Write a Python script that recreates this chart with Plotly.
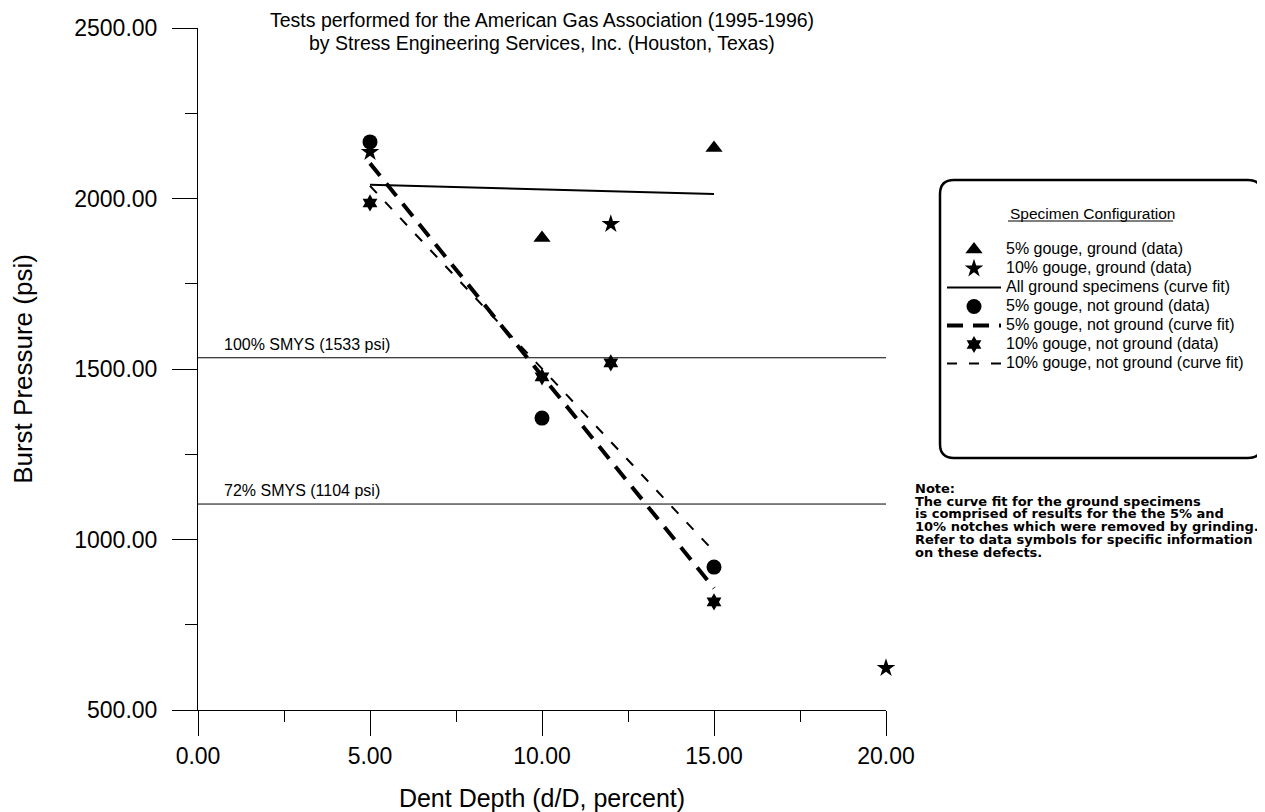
import plotly.graph_objects as go

# ---------------- data ----------------
g5_x = [10, 15]
g5_y = [1884, 2148]

g10_x = [5, 12, 20]
g10_y = [2136, 1925, 623]

gfit_x = [5, 15]
gfit_y = [2040, 2013]

ng5_x = [5, 10, 15]
ng5_y = [2166, 1356, 919]

ng5fit_x = [5, 15]
ng5fit_y = [2103, 857]

ng10_x = [5, 10, 12, 15]
ng10_y = [1987, 1477, 1518, 817]

ng10fit_x = [5, 15]
ng10fit_y = [2037, 965]

smys_x = [0, 20]
smys100 = [1533, 1533]
smys72 = [1104, 1104]

x_ticks = [0, 5, 10, 15, 20]
y_ticks = [500, 1000, 1500, 2000, 2500]

note_lines = [
    "Note:",
    "The curve fit for the ground specimens",
    "is comprised of results for the the 5% and",
    "10% notches which were removed by grinding.",
    "Refer to data symbols for specific information",
    "on these defects.",
]

FONT = "Liberation Sans, Arial, Helvetica, sans-serif"
NOTE_FONT = "DejaVu Sans, Verdana, sans-serif"

# ---------------- layout geometry (page pixels) ----------------
OFF = 8                      # page body margin
W, H = 1265 - OFF, 812 - OFF
PX0, PX1, PY0, PY1 = 198, 886, 28, 710     # plot area in page pixels
L, T = PX0 - OFF, PY0 - OFF
R, B = 1265 - PX1, 812 - PY1
PW, PH = PX1 - PX0, PY1 - PY0


def px(xpix):
    return (xpix - PX0) / PW


def py(ypix):
    return (PY1 - ypix) / PH


def big(t, size):
    return f'<span style="font-size:{size}px">{t}</span>'


LEG = 16
fig = go.Figure()

# reference lines
fig.add_trace(go.Scatter(x=smys_x, y=smys100, mode="lines", showlegend=False,
                         line=dict(color="black", width=1), hoverinfo="skip"))
fig.add_trace(go.Scatter(x=smys_x, y=smys72, mode="lines", showlegend=False,
                         line=dict(color="black", width=1), hoverinfo="skip"))

fig.add_trace(go.Scatter(x=g5_x, y=g5_y, mode="markers", name=big("5% gouge, ground (data)", LEG),
                         cliponaxis=False,
                         marker=dict(symbol="triangle-up", size=15, color="black")))
fig.add_trace(go.Scatter(x=g10_x, y=g10_y, mode="markers", name=big("10% gouge, ground (data)", LEG),
                         cliponaxis=False,
                         marker=dict(symbol="star", size=14, color="black")))
fig.add_trace(go.Scatter(x=gfit_x, y=gfit_y, mode="lines",
                         name=big("All ground specimens (curve fit)", LEG),
                         line=dict(color="black", width=2)))
fig.add_trace(go.Scatter(x=ng5_x, y=ng5_y, mode="markers", name=big("5% gouge, not ground (data)", LEG),
                         cliponaxis=False,
                         marker=dict(symbol="circle", size=15, color="black")))
fig.add_trace(go.Scatter(x=ng5fit_x, y=ng5fit_y, mode="lines",
                         name=big("5% gouge, not ground (curve fit)", LEG),
                         line=dict(color="black", width=4, dash="16px,10px")))
fig.add_trace(go.Scatter(x=ng10_x, y=ng10_y, mode="markers",
                         name=big("10% gouge, not ground (data)", LEG),
                         cliponaxis=False,
                         marker=dict(symbol="hexagram", size=13, color="black")))
fig.add_trace(go.Scatter(x=ng10fit_x, y=ng10fit_y, mode="lines",
                         name=big("10% gouge, not ground (curve fit)", LEG),
                         line=dict(color="black", width=2, dash="10px,12px")))

annotations = [
    dict(x=0.5, y=py(20), xref="paper", yref="paper", showarrow=False,
         text="Tests performed for the American Gas Association (1995-1996)",
         font=dict(family=FONT, size=19.5, color="black"), xanchor="center", yanchor="middle"),
    dict(x=0.5, y=py(43), xref="paper", yref="paper", showarrow=False,
         text="by Stress Engineering Services, Inc. (Houston, Texas)",
         font=dict(family=FONT, size=19.5, color="black"), xanchor="center", yanchor="middle"),
    dict(x=0.7, y=smys100[0], xref="x", yref="y", showarrow=False, text="100% SMYS (1533 psi)",
         font=dict(family=FONT, size=16, color="black"), xanchor="left", yanchor="bottom", yshift=3),
    dict(x=0.7, y=smys72[0], xref="x", yref="y", showarrow=False, text="72% SMYS (1104 psi)",
         font=dict(family=FONT, size=16, color="black"), xanchor="left", yanchor="bottom", yshift=3),
    dict(x=px(1008), y=py(213), xref="paper", yref="paper", showarrow=False,
         text="Specimen Configuration",
         font=dict(family=FONT, size=15.5, color="black"), xanchor="left", yanchor="middle"),
    dict(x=px(913), y=py(479), xref="paper", yref="paper", showarrow=False,
         text="<br>".join(big(t, 13) for t in note_lines),
         align="left", xanchor="left", yanchor="top",
         font=dict(family=NOTE_FONT, size=9.8, color="black", weight="bold")),
]

# rounded legend box
x0, x1, y0, y1 = px(940), px(1262), py(180), py(458)
rx, ry = 14 / PW, 14 / PH
path = (f"M{x0 + rx},{y0} L{x1 - rx},{y0} Q{x1},{y0} {x1},{y0 - ry} "
        f"L{x1},{y1 + ry} Q{x1},{y1} {x1 - rx},{y1} "
        f"L{x0 + rx},{y1} Q{x0},{y1} {x0},{y1 + ry} "
        f"L{x0},{y0 - ry} Q{x0},{y0} {x0 + rx},{y0} Z")

shapes = [
    dict(type="path", path=path, xref="paper", yref="paper",
         line=dict(color="black", width=2.5), fillcolor="rgba(0,0,0,0)"),
    dict(type="line", xref="paper", yref="paper", x0=px(1008), x1=px(1173),
         y0=py(221), y1=py(221), line=dict(color="black", width=1)),
]

fig.update_layout(
    width=W, height=H,
    margin=dict(l=L, r=R, t=T, b=B, autoexpand=False),
    paper_bgcolor="white", plot_bgcolor="white",
    font=dict(family=FONT, color="black"),
    showlegend=True,
    legend=dict(x=px(942), y=py(235), xanchor="left", yanchor="top",
                font=dict(family=FONT, size=12, color="black"),
                bgcolor="rgba(0,0,0,0)", borderwidth=0, itemwidth=54,
                tracegroupgap=0),
    annotations=annotations,
    shapes=shapes,
    xaxis=dict(range=[0, 20], tickvals=x_ticks, tickformat=".2f",
               showgrid=False, zeroline=False, showline=True, linecolor="black", linewidth=1,
               ticks="outside", ticklen=25, tickcolor="black", tickwidth=1,
               minor=dict(dtick=2.5, ticks="outside", ticklen=11, tickcolor="black", tickwidth=1),
               tickfont=dict(family=FONT, size=23, color="black"),
               title=dict(text="Dent Depth (d/D, percent)", standoff=22,
                          font=dict(family=FONT, size=25, color="black"))),
    yaxis=dict(range=[500, 2500], tickvals=y_ticks, tickformat=".2f",
               showgrid=False, zeroline=False, showline=True, linecolor="black", linewidth=1,
               ticks="outside", ticklen=25, tickcolor="black", tickwidth=1,
               minor=dict(dtick=250, ticks="outside", ticklen=12, tickcolor="black", tickwidth=1),
               tickfont=dict(family=FONT, size=23, color="black"),
               ticklabelstandoff=10,
               title=dict(text="Burst Pressure (psi)", standoff=34,
                          font=dict(family=FONT, size=26, color="black"))),
)

fig.write_html("out.html")
